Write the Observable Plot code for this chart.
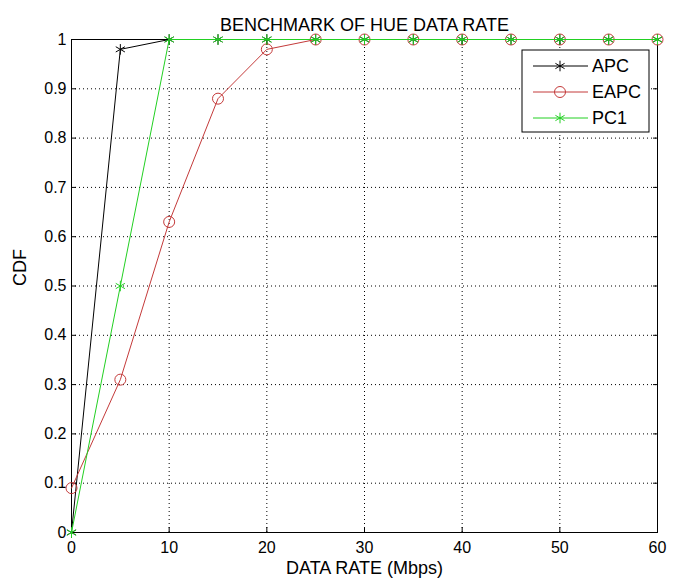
<!DOCTYPE html>
<html>
<head>
<meta charset="utf-8">
<script src="https://cdn.jsdelivr.net/npm/d3@7"></script>
<script src="https://cdn.jsdelivr.net/npm/@observablehq/plot@0.6"></script>
<style>
  html, body { margin: 0; padding: 0; background: #fff; }
  svg { display: block; }
</style>
</head>
<body>
<div id="chart"></div>
<script>
const dataRate = [0, 5, 10, 15, 20, 25, 30, 35, 40, 45, 50, 55, 60];
const apc  = [0, 0.98, 1, 1, 1, 1, 1, 1, 1, 1, 1, 1, 1];
const eapc = [0.09, 0.31, 0.63, 0.88, 0.98, 1, 1, 1, 1, 1, 1, 1, 1];
const pc1  = [0, 0.5, 1, 1, 1, 1, 1, 1, 1, 1, 1, 1, 1];
const seriesNames = ["APC", "EAPC", "PC1"];
const xTicks = [0, 10, 20, 30, 40, 50, 60];
const yTicks = [0, 0.1, 0.2, 0.3, 0.4, 0.5, 0.6, 0.7, 0.8, 0.9, 1];
const xGrid = [10, 20, 30, 40, 50];
const yGrid = [0.1, 0.2, 0.3, 0.4, 0.5, 0.6, 0.7, 0.8, 0.9];

const colors = {APC: "#000000", EAPC: "#c43a3a", PC1: "#22d022"};
const symbols = {APC: "asterisk", EAPC: "circle", PC1: "asterisk"};

const rows = [];
[apc, eapc, pc1].forEach((vals, i) => {
  vals.forEach((v, j) => rows.push({series: seriesNames[i], x: dataRate[j], y: v}));
});
const bySeries = s => rows.filter(r => r.series === s);

const font = "Liberation Sans, Arial, sans-serif";
const fmtY = d => String(+d.toFixed(1));

const marks = [
  Plot.gridX(xGrid, {stroke: "#000", strokeOpacity: 1, strokeDasharray: "1,3"}),
  Plot.gridY(yGrid, {stroke: "#000", strokeOpacity: 1, strokeDasharray: "1,3"}),
  Plot.frame({stroke: "#000", strokeWidth: 1}),
  Plot.axisX({ticks: xTicks, tickSize: -5, tickPadding: 14, label: null, fontSize: 16}),
  Plot.axisX({ticks: xTicks, anchor: "top", tickSize: -5, tickFormat: () => "", label: null}),
  Plot.axisY({ticks: yTicks, tickSize: -5, tickPadding: 10, tickFormat: fmtY, label: null, fontSize: 16}),
  Plot.axisY({ticks: yTicks, anchor: "right", tickSize: -5, tickFormat: () => "", label: null}),
];
for (const s of seriesNames) {
  marks.push(Plot.line(bySeries(s), {x: "x", y: "y", stroke: colors[s], strokeWidth: 1}));
  marks.push(Plot.dot(bySeries(s), {x: "x", y: "y", stroke: colors[s], fill: "none",
    symbol: symbols[s], r: symbols[s] === "circle" ? 5.5 : 5, strokeWidth: 1}));
}
marks.push(
  Plot.text(["BENCHMARK OF HUE DATA RATE"], {frameAnchor: "top", dy: -21, fontSize: 18, fill: "#000"}),
  Plot.text(["DATA RATE (Mbps)"], {frameAnchor: "bottom", dy: 41, fontSize: 18, fill: "#000"}),
  Plot.text(["CDF"], {frameAnchor: "left", dx: -51, rotate: -90, fontSize: 18, fill: "#000"})
);

const chart = Plot.plot({
  width: 678,
  height: 586,
  marginLeft: 71,
  marginRight: 21,
  marginTop: 39,
  marginBottom: 54,
  style: {fontFamily: font, fontSize: "16px", background: "#fff", color: "#000"},
  x: {domain: [0, 60]},
  y: {domain: [0, 1]},
  marks
});

// Legend (MATLAB style box inside plot, top-right)
const svg = d3.select(chart);
const lg = svg.append("g").attr("font-family", font).attr("font-size", 18).attr("text-anchor", "start");
const bx = 522, by = 50, bw = 127, bh = 82;
lg.append("rect").attr("x", bx).attr("y", by).attr("width", bw).attr("height", bh)
  .attr("fill", "#fff").attr("stroke", "#000");
seriesNames.forEach((s, i) => {
  const yy = by + 16 + i * 26;
  lg.append("line").attr("x1", bx + 11).attr("x2", bx + 66).attr("y1", yy).attr("y2", yy)
    .attr("stroke", colors[s]).attr("stroke-width", 1);
  const sym = symbols[s] === "circle" ? d3.symbolCircle : d3.symbolAsterisk;
  const r = symbols[s] === "circle" ? 5.5 : 5;
  lg.append("path").attr("transform", `translate(${bx + 38},${yy})`)
    .attr("d", d3.symbol(sym, Math.PI * r * r)())
    .attr("fill", "none").attr("stroke", colors[s]);
  lg.append("text").attr("x", bx + 70).attr("y", yy).attr("dy", "0.35em").attr("fill", "#000").text(s);
});

document.getElementById("chart").appendChild(chart);
</script>
</body>
</html>
